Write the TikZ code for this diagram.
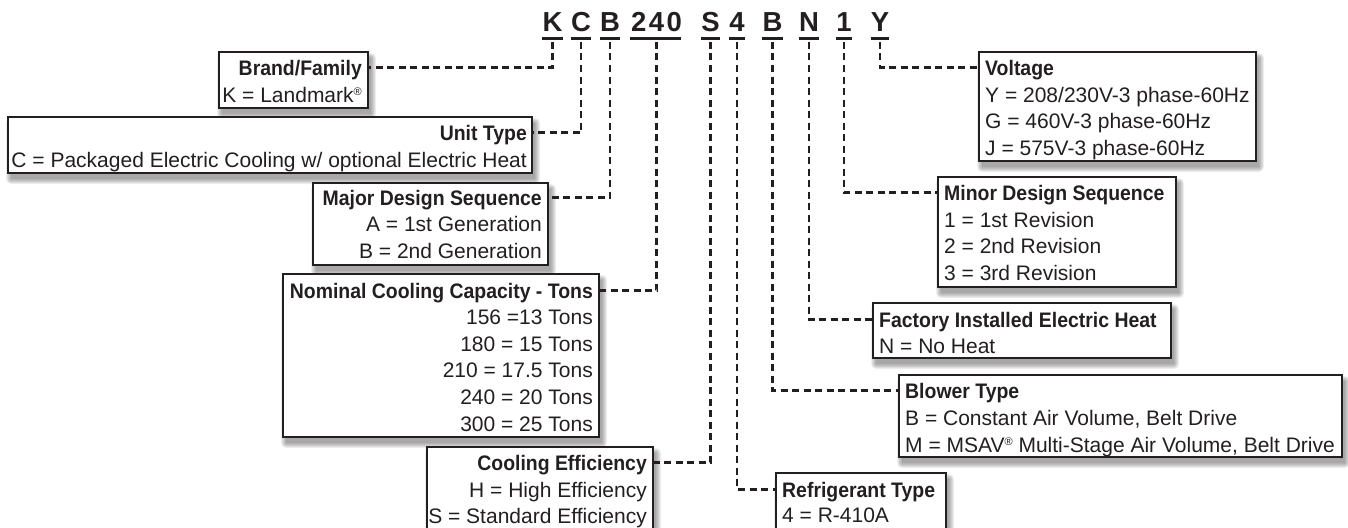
\documentclass[tikz,border=0pt]{standalone}
\usepackage{fontspec}
\setmainfont{Liberation Sans}
\newfontfamily\ttlfont[FakeStretch=0.925]{Liberation Sans}
\definecolor{ink}{HTML}{231F20}
\newcommand\regmark{{\fontsize{11}{11}\selectfont\raisebox{6.5pt}{®}}}
\newcommand\shbox[5]{%
  \foreach \e in {0,...,5}{\fill[black,opacity=0.065,rounded corners=\e pt] ({#2+3-\e},{#3+6-\e}) rectangle ({#4+3+\e},{#5+6+\e});}
  \node[box, anchor=north west, minimum width={#4-#2}, minimum height={#5-#3}] (#1) at (#2,#3) {};
}
\begin{document}
\begin{tikzpicture}[x=1pt,y=-1pt,
  box/.style={draw=ink, line width=1.2pt, fill=white, inner sep=0pt, outer sep=0pt, rectangle},
  txt/.style={inner sep=0pt, text=ink, font=\fontsize{21}{25}\selectfont},
  ttl/.style={inner sep=0pt, text=ink, font=\ttlfont\bfseries\fontsize{21}{25}\selectfont, text height=15pt, text depth=0pt},
  code/.style={inner sep=0pt, text=ink, font=\bfseries\fontsize{27.5}{30}\selectfont, anchor=base},
  uline/.style={draw=ink, line width=3pt},
  conn/.style={draw=ink, line width=2.2pt, dash pattern=on 7pt off 4.5pt}]
\useasboundingbox (0,0) rectangle (1348,527);
\clip (0,0) rectangle (1348,527);

% code letters
\node[code] (cK) at (552.5,32) {K};
\node[code] (cC) at (581,32) {C};
\node[code] (cB) at (610,32) {B};
\node[code] (c240) at (656.5,32) {\addfontfeatures{LetterSpace=9}240};
\node[code] (cS) at (710.5,32) {S};
\node[code] (c4) at (737,32) {4};
\node[code] (cBl) at (772.5,32) {B};
\node[code] (cN) at (809,32) {N};
\node[code] (c1) at (844,32) {1};
\node[code] (cY) at (880,32) {Y};
\foreach \n in {cK,cC,cB,cS,c4,cBl,cN,c1,cY}
  \draw[uline] ([yshift=-7pt]\n.base west) -- ([yshift=-7pt]\n.base east);
\draw[uline] ([yshift=-7pt,xshift=-1pt]c240.base west) -- ([yshift=-7pt,xshift=-1pt]c240.base east);

% boxes
\shbox{brand}{219}{52}{368}{108}
\shbox{unit}{8}{117}{532}{173}
\shbox{major}{313}{183}{548}{265}
\shbox{nom}{283}{274}{599}{437}
\shbox{cool}{427}{447}{653}{545}
\shbox{volt}{979}{52}{1256}{161}
\shbox{minor}{938}{177}{1176}{287}
\shbox{fact}{873}{303}{1171}{358}
\shbox{blow}{899}{375}{1342}{457}
\shbox{refr}{776}{473}{946}{545}

% left texts
\node[ttl, anchor=base east] (brandT) at (362,75) {Brand/Family};
\node[txt, anchor=base east] (brand1) at (362,102) {K = Landmark\regmark};
\node[ttl, anchor=base east] (unitT) at (527,140) {Unit Type};
\node[txt, anchor=base east] (unit1) at (527,167) {C = Packaged Electric Cooling w/ optional Electric Heat};
\node[ttl, anchor=base east] (majorT) at (542,205) {Major Design Sequence};
\node[txt, anchor=base east] (major1) at (542,231.5) {A = 1st Generation};
\node[txt, anchor=base east] (major2) at (542,258) {B = 2nd Generation};
\node[ttl, anchor=base east] (nomT) at (593,298) {Nominal Cooling Capacity - Tons};
\node[txt, anchor=base east] (nom1) at (593,324.6) {156 =13 Tons};
\node[txt, anchor=base east] (nom2) at (593,351.2) {180 = 15 Tons};
\node[txt, anchor=base east] (nom3) at (593,377.8) {210 = 17.5 Tons};
\node[txt, anchor=base east] (nom4) at (593,404.4) {240 = 20 Tons};
\node[txt, anchor=base east] (nom5) at (593,431) {300 = 25 Tons};
\node[ttl, anchor=base east] (coolT) at (647,470) {Cooling Efficiency};
\node[txt, anchor=base east] (cool1) at (647,497) {H = High Efficiency};
\node[txt, anchor=base east] (cool2) at (647,523) {S = Standard Efficiency};

% right texts
\node[ttl, anchor=base west] (voltT) at (985,75) {Voltage};
\node[txt, anchor=base west] (volt1) at (985,102) {Y = 208/230V-3 phase-60Hz};
\node[txt, anchor=base west] (volt2) at (985,128) {G = 460V-3 phase-60Hz};
\node[txt, anchor=base west] (volt3) at (985,155) {J = 575V-3 phase-60Hz};
\node[ttl, anchor=base west] (minorT) at (944,200) {Minor Design Sequence};
\node[txt, anchor=base west] (minor1) at (944,227) {1 = 1st Revision};
\node[txt, anchor=base west] (minor2) at (944,253) {2 = 2nd Revision};
\node[txt, anchor=base west] (minor3) at (944,280) {3 = 3rd Revision};
\node[ttl, anchor=base west] (factT) at (879,327) {Factory Installed Electric Heat};
\node[txt, anchor=base west] (fact1) at (879,353) {N = No Heat};
\node[ttl, anchor=base west] (blowT) at (905,398) {Blower Type};
\node[txt, anchor=base west] (blow1) at (905,425) {B = Constant Air Volume, Belt Drive};
\node[txt, anchor=base west] (blow2) at (905,452) {M = MSAV\regmark{} Multi-Stage Air Volume, Belt Drive};
\node[ttl, anchor=base west] (refrT) at (782,497) {Refrigerant Type};
\node[txt, anchor=base west] (refr1) at (782,522) {4 = R-410A};

% connectors
\draw[conn] ([yshift=-10pt]cK.base) |- (brand.east |- brandT);
\draw[conn] ([yshift=-10pt]cC.base) |- (unit.east |- unitT);
\draw[conn] ([yshift=-10pt]cB.base) |- (major.east |- majorT);
\draw[conn] ([yshift=-10pt]c240.base) |- (nom.east |- nomT);
\draw[conn] ([yshift=-10pt]cS.base) |- (cool.east |- coolT);
\draw[conn] ([yshift=-10pt]c4.base) |- (refr.west |- refrT);
\draw[conn] ([yshift=-10pt]cBl.base) |- (blow.west |- blowT);
\draw[conn] ([yshift=-10pt]cN.base) |- (fact.west |- factT);
\draw[conn] ([yshift=-10pt]c1.base) |- (minor.west |- minorT);
\draw[conn] ([yshift=-10pt]cY.base) |- (volt.west |- voltT);
\end{tikzpicture}
\end{document}
